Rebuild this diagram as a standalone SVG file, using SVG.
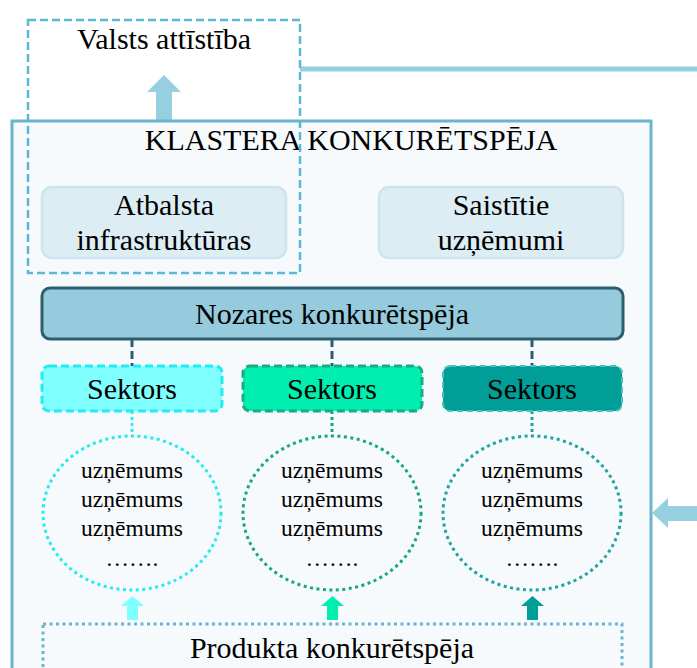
<svg xmlns="http://www.w3.org/2000/svg" width="697" height="668" viewBox="0 0 697 668" font-family="'Liberation Serif', 'DejaVu Serif', serif">
<style>
text{font-family:'Liberation Serif','DejaVu Serif',serif;fill:#000;text-anchor:middle}
.big{font-size:30px}
.sm{font-size:23.5px}
.lt{fill:#dcedf3;stroke:#cde5ee;stroke-width:2.5}
.dash{stroke:#2e5e6e;stroke-width:3;stroke-dasharray:8 4;fill:none}
</style>
<rect width="697" height="668" fill="#fff"/>
<g id="connectors">
<line x1="300" y1="69" x2="697" y2="69" stroke="#96cfe0" stroke-width="5"/>
<polygon points="156,121 156,92 147,92 164,75 181,92 172,92 172,121" fill="#96cfe0"/>
<polygon points="697,506 668,506 668,498 652,513 668,528 668,521 697,521" fill="#96cfe0"/>
</g>
<g id="klastera">
<rect x="12" y="121" width="639" height="560" fill="#f7fafc" stroke="#6ab4cc" stroke-width="3"/>
<text class="big" x="351" y="150">KLASTERA KONKURĒTSPĒJA</text>
</g>
<g id="atbalsta">
<rect class="lt" x="42" y="187" width="244" height="71" rx="10"/>
<text class="big" x="164" y="215">Atbalsta</text>
<text class="big" x="164" y="250">infrastruktūras</text>
</g>
<g id="saistitie">
<rect class="lt" x="379" y="187" width="244" height="71" rx="10"/>
<text class="big" x="501" y="215">Saistītie</text>
<text class="big" x="501" y="250">uzņēmumi</text>
</g>
<g id="valsts">
<rect x="28" y="20" width="272" height="253" fill="none" stroke="#5bb8d4" stroke-width="2.5" stroke-dasharray="8 4"/>
<text class="big" x="164" y="49">Valsts attīstība</text>
</g>
<g id="nozares">
<rect x="42" y="288" width="581" height="51" rx="8" fill="#95cbdc" stroke="#2e5e6e" stroke-width="3"/>
<text class="big" x="332" y="324">Nozares konkurētspēja</text>
</g>
<g id="connectors2">
<line class="dash" x1="132" y1="339" x2="132" y2="366"/>
<line class="dash" x1="332" y1="339" x2="332" y2="366"/>
<line class="dash" x1="532" y1="339" x2="532" y2="366"/>
<line x1="132" y1="411" x2="132" y2="436" stroke="#33eef0" stroke-width="3" stroke-dasharray="3 3"/>
<line x1="332" y1="411" x2="332" y2="436" stroke="#13a883" stroke-width="3" stroke-dasharray="3 3"/>
<line x1="532" y1="411" x2="532" y2="436" stroke="#1fa3a3" stroke-width="3" stroke-dasharray="3 3"/>
<polygon points="127,620 127,606 121,606 132.5,596 144,606 138,606 138,620" fill="#80ffff"/>
<polygon points="327,620 327,606 321,606 332.5,596 344,606 338,606 338,620" fill="#00eeb0"/>
<polygon points="527,620 527,606 521,606 532.5,596 544,606 538,606 538,620" fill="#009e96"/>
</g>
<g id="sektors1">
<rect x="42" y="366" width="180" height="45" rx="7" fill="#80ffff" stroke="#22ecf0" stroke-width="3" stroke-dasharray="8 4"/>
<text class="big" x="132" y="399">Sektors</text>
</g>
<g id="sektors2">
<rect x="243" y="366" width="179" height="45" rx="7" fill="#00eeb0" stroke="#17ac86" stroke-width="3" stroke-dasharray="8 4"/>
<text class="big" x="332" y="399">Sektors</text>
</g>
<g id="sektors3">
<rect x="443" y="366" width="179" height="45" rx="7" fill="#009e96" stroke="#4cc0c0" stroke-width="2" stroke-dasharray="6 4"/>
<text class="big" x="532" y="399">Sektors</text>
</g>
<g id="grupa1">
<ellipse cx="132" cy="513" rx="89" ry="77" fill="none" stroke="#22ecf0" stroke-width="3" stroke-dasharray="3 3.5"/>
<text class="sm" x="132" y="478">uzņēmums</text>
<text class="sm" x="132" y="507">uzņēmums</text>
<text class="sm" x="132" y="536">uzņēmums</text>
<text class="sm" x="132" y="566">…….</text>
</g>
<g id="grupa2">
<ellipse cx="332" cy="513" rx="89" ry="77" fill="none" stroke="#13a883" stroke-width="3" stroke-dasharray="3 3.5"/>
<text class="sm" x="332" y="478">uzņēmums</text>
<text class="sm" x="332" y="507">uzņēmums</text>
<text class="sm" x="332" y="536">uzņēmums</text>
<text class="sm" x="332" y="566">…….</text>
</g>
<g id="grupa3">
<ellipse cx="532" cy="513" rx="89" ry="77" fill="none" stroke="#1fa3a3" stroke-width="3" stroke-dasharray="3 3.5"/>
<text class="sm" x="532" y="478">uzņēmums</text>
<text class="sm" x="532" y="507">uzņēmums</text>
<text class="sm" x="532" y="536">uzņēmums</text>
<text class="sm" x="532" y="566">…….</text>
</g>
<g id="produkta">
<rect x="43" y="624" width="579" height="60" fill="none" stroke="#6ab4cc" stroke-width="3" stroke-dasharray="3 3.5"/>
<text class="big" x="332" y="658">Produkta konkurētspēja</text>
</g>
</svg>
